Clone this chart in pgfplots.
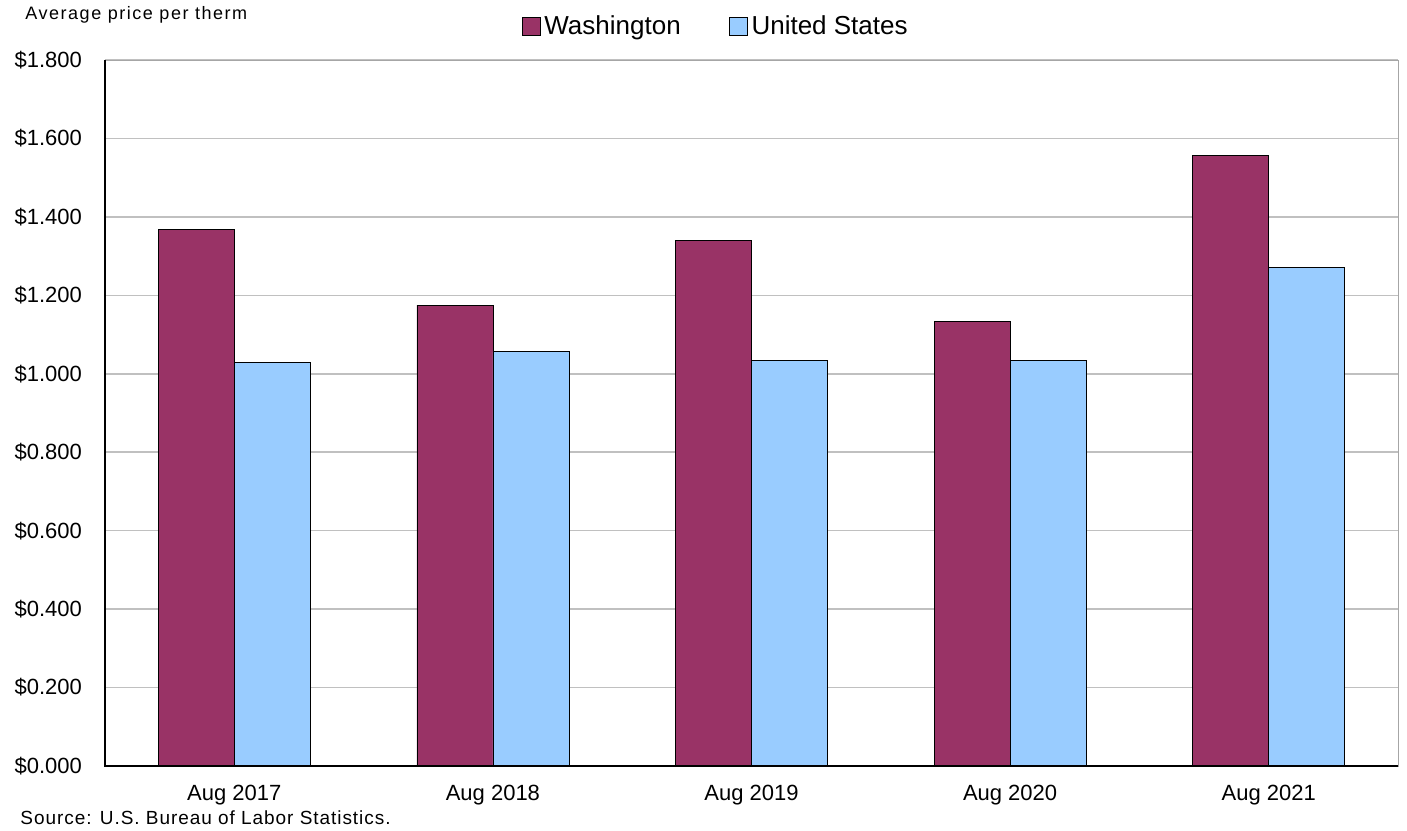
\documentclass[border=0pt]{standalone}
\usepackage{pgfplots}
\pgfplotsset{compat=1.18}
\usepackage{fontspec}
\setmainfont{Liberation Sans}
\newfontfamily\spacedA[LetterSpace=8.5]{Liberation Sans}
\newfontfamily\spacedB[LetterSpace=5]{Liberation Sans}
\definecolor{wa}{HTML}{993366}
\definecolor{us}{HTML}{99CCFF}
\definecolor{gridc}{HTML}{C0C0C0}
\begin{document}
\begin{tikzpicture}
\begin{axis}[
  name=ax,
  scale only axis,
  width=646.5pt, height=353pt,
  xmin=-0.5, xmax=4.5,
  ymin=0, ymax=1.8,
  ybar=0pt, bar width=38pt,
  xtick={0,1,2,3,4},
  xticklabels={Aug 2017,Aug 2018,Aug 2019,Aug 2020,Aug 2021},
  ytick={0,0.2,0.4,0.6,0.8,1.0,1.2,1.4,1.6,1.8},
  yticklabel={\$\pgfmathprintnumber[fixed,fixed zerofill,precision=3]{\tick}},
  /pgf/number format/assume math mode=true,
  major tick length=0pt,
  tick label style={font=\fontsize{11}{13}\selectfont},
  yticklabel style={xshift=-8pt},
  xticklabel style={yshift=-6pt},
  ymajorgrids, grid style={gridc, line width=0.8pt},
  axis line style={gray!70},
  legend style={at={(0.473,1)}, anchor=south, yshift=7pt, draw=none, fill=none,
    font=\fontsize{13}{15}\selectfont, legend columns=2,
    /tikz/every even column/.append style={column sep=22pt}},
  legend image code/.code={\draw[#1, draw=black] (0pt,-4.5pt) rectangle (9pt,4.5pt);},
  legend cell align=left,
  clip=false,
]
\addplot[draw=black, fill=wa] coordinates {(0,1.367) (1,1.175) (2,1.339) (3,1.133) (4,1.557)};
\addlegendentry{Washington}
\addplot[draw=black, fill=us] coordinates {(0,1.028) (1,1.056) (2,1.035) (3,1.033) (4,1.270)};
\addlegendentry{United States}
\end{axis}
\draw[black, line width=0.8pt] (ax.north west) -- (ax.south west) -- (ax.south east);
\node[anchor=west, inner sep=0pt, font=\spacedA\fontsize{9}{11}\selectfont] at ([shift={(-40pt,375.5pt)}]ax.south west) {Average price per therm};
\node[anchor=west, inner sep=0pt, font=\spacedB\fontsize{9.5}{11}\selectfont] at ([shift={(-42.5pt,-26pt)}]ax.south west) {Source: U.S. Bureau of Labor Statistics.};
\pgfresetboundingbox
\path ([shift={(-52.5pt,-32pt)}]ax.south west) rectangle ([shift={(4.5pt,30pt)}]ax.north east);
\end{tikzpicture}
\end{document}
